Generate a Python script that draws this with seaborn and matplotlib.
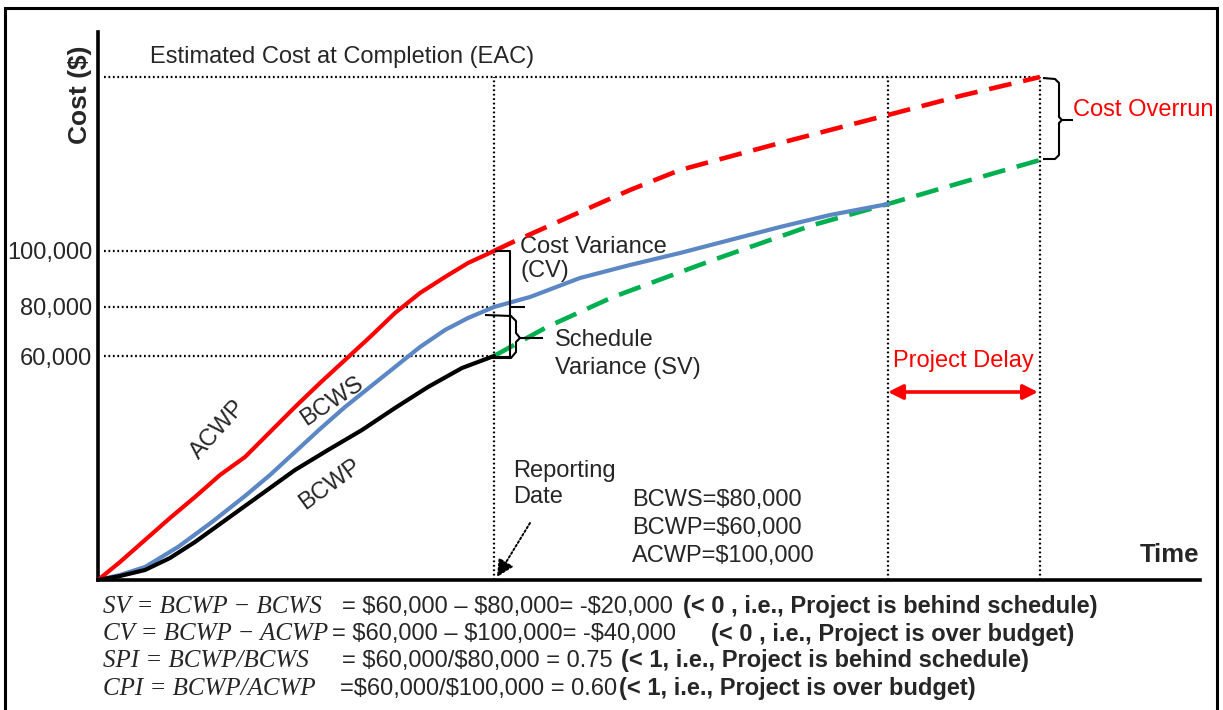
import matplotlib
matplotlib.use("Agg")
import matplotlib.pyplot as plt
import seaborn as sns
import pandas as pd
from matplotlib.patches import Rectangle

# ---------------- data (schematic units) ----------------
acwp_x = [0, 22, 47, 72, 97, 122, 147, 172, 197, 222, 247, 272, 297, 322, 347, 370, 396]
acwp_y = [0, 18, 40, 62, 83, 105, 123, 148, 173, 197, 220, 243, 267, 287, 303, 317, 329]

bcws_x = [0, 22, 47, 80, 114, 147, 172, 197, 222, 247, 272, 297, 322, 347, 370, 396,
          432, 482, 532, 582, 632, 682, 732, 790]
bcws_y = [0, 5, 13, 33, 58, 84, 105, 128, 151, 173, 193, 213, 233, 250, 262, 273,
          283, 302, 315, 327, 340, 353, 365, 376]

bcwp_x = [0, 22, 47, 72, 97, 122, 147, 172, 197, 230, 264, 297, 330, 364, 396]
bcwp_y = [0, 4, 10, 22, 38, 56, 74, 92, 110, 130, 150, 172, 193, 212, 224]

acwp_fc_x = [396, 415, 482, 532, 582, 682, 790, 862, 942]
acwp_fc_y = [329, 338, 368, 390, 410, 437, 465, 484, 503]

bcwp_fc_x = [396, 449, 515, 615, 715, 790, 862, 942]
bcwp_fc_y = [224, 253, 283, 320, 355, 376, 397, 420]

report_x = 396
plan_finish_x = 790
actual_finish_x = 942
eac_y = 503
tick_vals = [329, 273, 224]
tick_labels = ["100,000", "80,000", "60,000"]

RED = "#FF0000"
BLUE = "#5B87C5"
GREEN = "#00B050"

sns.set_theme(style="white")
plt.rcParams["font.family"] = ["Liberation Sans", "DejaVu Sans"]
plt.rcParams["text.parse_math"] = False

W, H = 1223, 710
fig = plt.figure(figsize=(W / 100, H / 100), dpi=100)
ax = fig.add_axes([98 / W, 1 - 580 / H, 1102 / W, 548 / H])
ax.set_xlim(0, 1102)
ax.set_ylim(0, 548)

def line(x, y, color, ls="-", lw=3.0):
    df = pd.DataFrame({"x": x, "y": y})
    sns.lineplot(data=df, x="x", y="y", ax=ax, color=color, linewidth=lw,
                 linestyle=ls, estimator=None, sort=False, zorder=5,
                 solid_joinstyle="round", solid_capstyle="round")

dash = (0, (5, 2.6))
line(acwp_fc_x, acwp_fc_y, RED, dash, 3.3)
line(bcwp_fc_x, bcwp_fc_y, GREEN, dash, 3.3)
line(bcws_x, bcws_y, BLUE, "-", 3.0)
line(acwp_x, acwp_y, RED, "-", 3.0)
line(bcwp_x, bcwp_y, "black", "-", 3.0)

dot = dict(color="black", lw=1.6, linestyle=(0, (0.8, 1.2)), zorder=2)
for v in tick_vals:
    ax.plot([6, report_x], [v, v], **dot)
ax.plot([6, actual_finish_x], [eac_y, eac_y], **dot)
for xv in [report_x, plan_finish_x, actual_finish_x]:
    ax.plot([xv, xv], [0, eac_y], **dot)

ax.set_xlabel("")
ax.set_ylabel("")
ax.set_xticks([])
ax.set_yticks(tick_vals)
ax.set_yticklabels(tick_labels, fontsize=17)
ax.tick_params(axis="y", length=0, pad=4)
for s in ["top", "right"]:
    ax.spines[s].set_visible(False)
for s in ["left", "bottom"]:
    ax.spines[s].set_linewidth(2.6)
    ax.spines[s].set_color("black")

FS = 17
ax.text(52, 523, "Estimated Cost at Completion (EAC)", fontsize=FS, va="center", ha="left")
ax.text(-18, 485, "Cost ($)", fontsize=19, fontweight="bold", rotation=90,
        va="center", ha="center", clip_on=False)
ax.text(1042, 25, "Time", fontsize=18.5, fontweight="bold", va="center", ha="left")
ax.text(422, 333, "Cost Variance", fontsize=FS, va="center")
ax.text(422, 309, "(CV)", fontsize=FS, va="center")
ax.text(457, 240, "Schedule", fontsize=FS, va="center")
ax.text(457, 212, "Variance (SV)", fontsize=FS, va="center")
ax.text(415, 109, "Reporting", fontsize=FS, va="center")
ax.text(415, 83, "Date", fontsize=FS, va="center")
ax.text(534, 80, "BCWS=$80,000", fontsize=FS, va="center")
ax.text(534, 52, "BCWP=$60,000", fontsize=FS, va="center")
ax.text(534, 24, "ACWP=$100,000", fontsize=FS, va="center")
ax.text(975, 470, "Cost Overrun", fontsize=FS, color=RED, va="center", clip_on=False)
ax.text(795, 219, "Project Delay", fontsize=FS, color=RED, va="center")

ax.text(120, 150, "ACWP", fontsize=FS, rotation=48, ha="center", va="center")
ax.text(234, 179, "BCWS", fontsize=FS, rotation=34, ha="center", va="center")
ax.text(232, 96, "BCWP", fontsize=FS, rotation=36, ha="center", va="center")

# arrows
ax.annotate("", xy=(plan_finish_x, 188), xytext=(actual_finish_x - 2, 188),
            arrowprops=dict(arrowstyle="<|-|>", color=RED, lw=2.6,
                            mutation_scale=22, shrinkA=0, shrinkB=0))
ax.annotate("", xy=(report_x + 3, 3), xytext=(432, 57),
            arrowprops=dict(arrowstyle="-|>", color="black", lw=1.4,
                            linestyle=(0, (1, 1.2)), mutation_scale=26,
                            shrinkA=0, shrinkB=0))

# brackets
bk = dict(color="black", lw=1.5, zorder=6, solid_capstyle="butt")
r = report_x
ax.plot([r + 1, r + 16, r + 16, r - 1], [tick_vals[0], tick_vals[0], tick_vals[2] - 1, tick_vals[2] - 1], **bk)
ax.plot([r + 16, r + 31], [tick_vals[1], tick_vals[1]], **bk)
ax.plot([r - 9, r + 17, r + 22, r + 22, r + 26, r + 49], [265, 264, 259, 247, 242, 242], **bk)
ax.plot([r + 26, r + 22, r + 22, r + 17, r - 2], [242, 238, 228, 222, 222], **bk)
f = actual_finish_x
ax.plot([f + 3, f + 15, f + 19, f + 19, f + 22, f + 33], [502, 501, 497, 463, 460, 460], clip_on=False, **bk)
ax.plot([f + 22, f + 19, f + 19, f + 15, f + 3], [460, 457, 425, 421, 421], clip_on=False, **bk)

# formulas at bottom
rows = [
    (607, "SV = BCWP − BCWS", 103, "= $60,000 – $80,000= -$20,000", 342,
     "(< 0 , i.e., Project is behind schedule)", 683),
    (634, "CV = BCWP − ACWP", 103, "= $60,000 – $100,000= -$40,000", 332,
     "(< 0 , i.e., Project is over budget)", 711),
    (661, "SPI = BCWP/BCWS", 103, "= $60,000/$80,000 = 0.75", 342,
     "(< 1, i.e., Project is behind schedule)", 621),
    (689, "CPI = BCWP/ACWP", 103, "=$60,000/$100,000 = 0.60", 340,
     "(< 1, i.e., Project is over budget)", 619),
]
for yy, t1, x1, t2, x2, t3, x3 in rows:
    yf = 1 - yy / H
    fig.text(x1 / W, yf, t1, fontsize=18, fontstyle="italic",
             family=["Liberation Serif", "DejaVu Serif"], va="center")
    fig.text(x2 / W, yf, t2, fontsize=FS, va="center")
    fig.text(x3 / W, yf, t3, fontsize=FS, fontweight="bold", va="center")

fig.patches.append(Rectangle((5 / W, -0.05), 1212 / W, 1 - 8 / H + 0.05,
                             transform=fig.transFigure, fill=False,
                             edgecolor="black", lw=2.2, zorder=10))

fig.savefig("out.png", dpi=100, facecolor="white")
